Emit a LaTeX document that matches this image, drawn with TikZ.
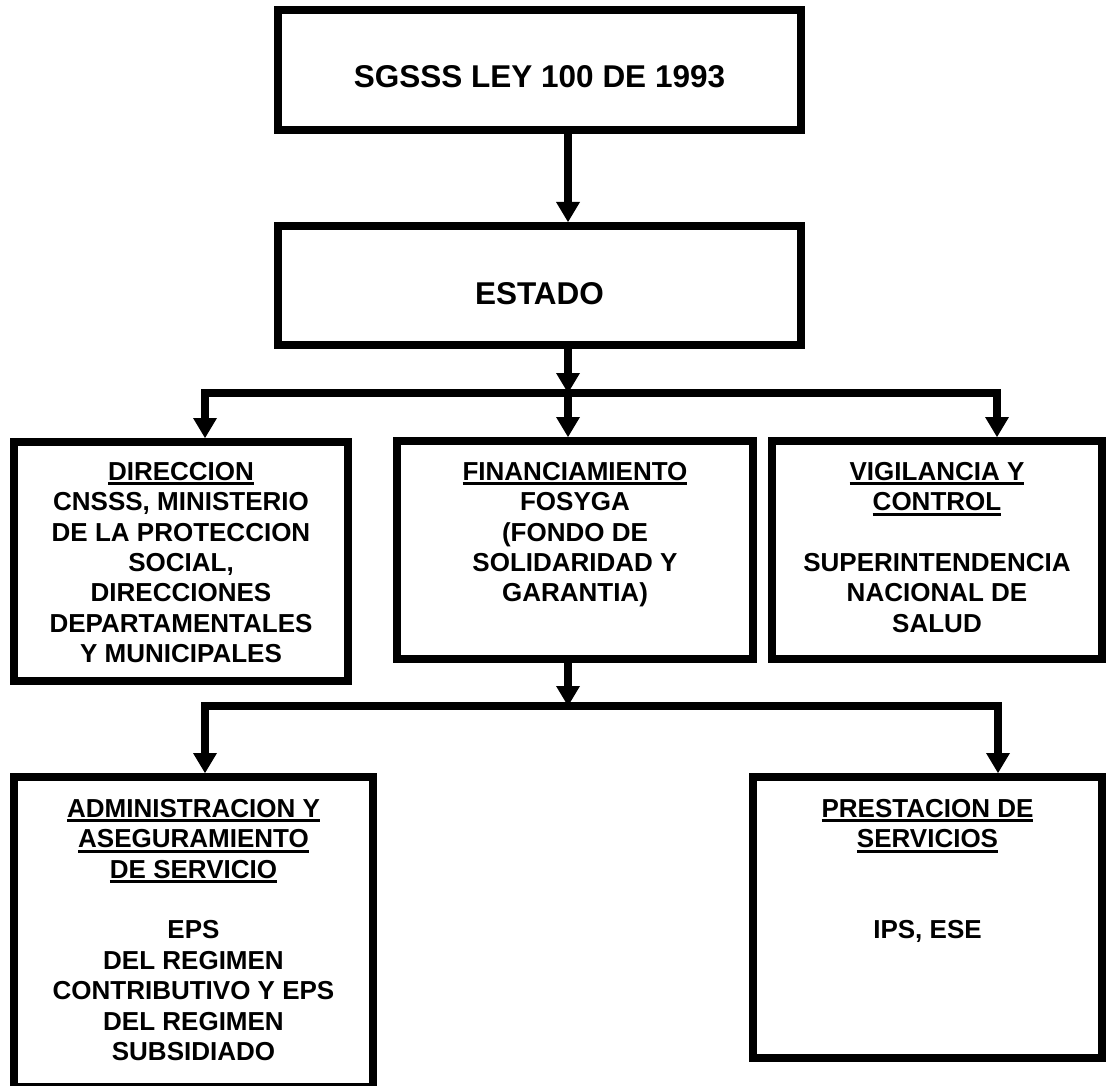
\documentclass[tikz,border=0pt]{standalone}
\usepackage{fontspec}
\setmainfont{Liberation Sans}
\usetikzlibrary{arrows.meta}
\newcommand\hdr[1]{\setbox0\hbox{#1}\rlap{\rule[-5pt]{\wd0}{3pt}}\box0}
\begin{document}
\begin{tikzpicture}[x=1pt,y=-1pt,
  box/.style={draw=black,fill=white,line width=8pt,inner sep=0pt},
  txt/.style={inner sep=0pt,align=center,font=\fontsize{26}{30.4}\selectfont\bfseries},
  big/.style={inner sep=0pt,font=\fontsize{31.5}{37}\selectfont\bfseries},
  arr/.style={line width=8pt,-{Triangle[length=20pt,width=24pt,line width=0pt]}},
  ln/.style={line width=8pt,line cap=rect}]
\useasboundingbox (0,0) rectangle (1106,1086);
\clip (0,0) rectangle (1106,1086);
\fill[white] (0,0) rectangle (1106,1086);
% boxes
\node[box,minimum width=523pt,minimum height=120pt] (top) at (539.5,70) {};
\node[box,minimum width=523pt,minimum height=119pt] (estado) at (539.5,285.5) {};
\node[box,minimum width=334pt,minimum height=239pt] (dir) at (181,561.5) {};
\node[box,minimum width=356pt,minimum height=218pt] (fin) at (575,550) {};
\node[box,minimum width=330pt,minimum height=218pt] (vig) at (937,550) {};
\node[box,minimum width=359pt,minimum height=310pt] (adm) at (193.5,932) {};
\node[box,minimum width=349pt,minimum height=281pt] (pre) at (927.5,917.5) {};
% texts
\node[big,anchor=base] (t1) at (539.5,88) {SGSSS LEY 100 DE 1993};
\node[big,anchor=base] (t2) at (539.5,304) {ESTADO};
\node[txt,anchor=north] (t3) at (181,458) {\rule{0pt}{22pt}\hdr{DIRECCION}\\CNSSS, MINISTERIO\\DE LA PROTECCION\\SOCIAL,\\DIRECCIONES\\DEPARTAMENTALES\\Y MUNICIPALES};
\node[txt,anchor=north] (t4) at (575,458) {\rule{0pt}{22pt}\hdr{FINANCIAMIENTO}\\FOSYGA\\(FONDO DE\\SOLIDARIDAD Y\\GARANTIA)};
\node[txt,anchor=north] (t5) at (937,458) {\rule{0pt}{22pt}\hdr{VIGILANCIA Y}\\\hdr{CONTROL}\\[30.4pt]SUPERINTENDENCIA\\NACIONAL DE\\SALUD};
\node[txt,anchor=north] (t6) at (193.5,795) {\rule{0pt}{22pt}\hdr{ADMINISTRACION Y}\\\hdr{ASEGURAMIENTO}\\\hdr{DE SERVICIO}\\[30.4pt]EPS\\DEL REGIMEN\\CONTRIBUTIVO Y EPS\\DEL REGIMEN\\SUBSIDIADO};
\node[txt,anchor=north] (t7) at (927.5,795) {\rule{0pt}{22pt}\hdr{PRESTACION DE}\\\hdr{SERVICIOS}\\[60.8pt]IPS, ESE};
% junctions
\coordinate (j1) at (568,393);
\coordinate (bl1) at (205,393);
\coordinate (br1) at (997,393);
\coordinate (j2) at (568,706);
\coordinate (bl2) at (205,706);
\coordinate (br2) at (998,706);
% connectors
\draw[arr] (top.south -| j1) -- (estado.north -| j1);
\draw[arr] (estado.south -| j1) -- (j1);
\draw[ln] (bl1) -- (br1);
\draw[arr] (bl1) -- (dir.north -| bl1);
\draw[arr] (j1) -- (fin.north -| j1);
\draw[arr] (br1) -- (vig.north -| br1);
\draw[arr] (fin.south -| j2) -- (j2);
\draw[ln] (bl2) -- (br2);
\draw[arr] (bl2) -- (adm.north -| bl2);
\draw[arr] (br2) -- (pre.north -| br2);
\end{tikzpicture}
\end{document}
